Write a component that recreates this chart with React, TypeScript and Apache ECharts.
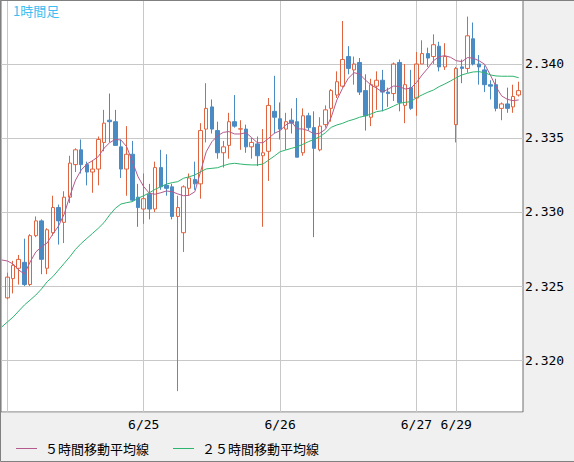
import React, { useEffect, useRef } from 'react';
import * as echarts from 'echarts';

// Trading sessions: [day, first hour, number of hourly slots]
const sessions: [string, number, number][] = [
  ['6/23', 23, 1],
  ['6/24', 0, 24],
  ['6/25', 0, 24],
  ['6/26', 0, 24],
  ['6/27', 0, 7],
  ['6/29', 7, 12],
];
const categories: string[] = [];
sessions.forEach(([day, start, count]) => {
  for (let i = 0; i < count; i++) categories.push(`${day} ${String(start + i).padStart(2, '0')}:00`);
});

const gridDays = ['6/24', '6/25', '6/26', '6/27', '6/29'];
const tickLabels = ['6/25', '6/26', '6/27', '6/29'];
const yTickValues = [2.32, 2.325, 2.33, 2.335, 2.34];

const opens = [null,
  2.3242, 2.3255, 2.3262, 2.3266, 2.3251, 2.3284, 2.3294, 2.3262, 2.3286, 2.3303,
  2.3293, 2.3310, 2.3332, 2.3342, 2.3332, 2.3327, 2.3329, 2.3347, 2.3362, 2.3361,
  2.3344, 2.3329, 2.3339, 2.3310, 2.3302, 2.3312, 2.3302, 2.3330, 2.3318, 2.3317,
  2.3297, 2.3286, 2.3316, 2.3322, 2.3319, 2.3356, 2.3371, 2.3355, 2.3340, 2.3345,
  2.3361, 2.3356, 2.3356, 2.3344, 2.3346, 2.3338, 2.3341, 2.3368, 2.3363, 2.3356,
  2.3362, 2.3361, 2.3340, 2.3365, 2.3357, 2.3342, 2.3359, 2.3370, 2.3379, 2.3385,
  2.3405, 2.3396, 2.3401, 2.3382, 2.3364, 2.3385, 2.3389, 2.3381, 2.3380, 2.3401,
  2.3372, 2.3384, 2.3377, 2.3400, 2.3407, 2.3405, 2.3412, 2.3398, null,
  2.3359, 2.3398, 2.3397, 2.3417, 2.3400, 2.3396, 2.3386, 2.3386, 2.3370, 2.3373, 2.3371, 2.3379];

const closes = [null,
  2.3256, 2.3264, 2.3268, 2.3251, 2.3284, 2.3294, 2.3268, 2.3288, 2.3303, 2.3294,
  2.3310, 2.3333, 2.3342, 2.3332, 2.3327, 2.3329, 2.3349, 2.3360, 2.3361, 2.3345,
  2.3329, 2.3339, 2.3308, 2.3303, 2.3309, 2.3302, 2.3330, 2.3317, 2.3316, 2.3297,
  2.3303, 2.3317, 2.3323, 2.3319, 2.3355, 2.3370, 2.3356, 2.3340, 2.3344, 2.3361,
  2.3358, 2.33562, 2.3344, 2.3347, 2.3338, 2.3340, 2.3372, 2.3364, 2.3356, 2.3361,
  2.3360, 2.3337, 2.3365, 2.3357, 2.3343, 2.3358, 2.3369, 2.3382, 2.3388, 2.3403,
  2.3397, 2.3400, 2.3381, 2.3365, 2.3386, 2.3389, 2.3381, 2.3380, 2.3400, 2.3374,
  2.3386, 2.3370, 2.3400, 2.3407, 2.3404, 2.3413, 2.3398, 2.3405, null,
  2.3397, 2.3397, 2.3419, 2.3400, 2.3398, 2.3386, 2.3385, 2.3370, 2.3373, 2.3370, 2.3378, 2.3382];

const lows = [null,
  2.3241, 2.3245, 2.3251, 2.3250, 2.3250, 2.3283, 2.3258, 2.3258, 2.3284, 2.3278,
  2.3279, 2.3306, 2.3327, 2.3326, 2.3318, 2.3313, 2.3318, 2.3341, 2.3347, 2.3345,
  2.3323, 2.3311, 2.3307, 2.3290, 2.3292, 2.3295, 2.3300, 2.3315, 2.3311, 2.3295,
  2.3179, 2.3273, 2.3311, 2.3315, 2.3309, 2.3347, 2.3353, 2.3336, 2.3330, 2.3336,
  2.3357, 2.3342, 2.3340, 2.3336, 2.3331, 2.3290, 2.3321, 2.3353, 2.3349, 2.3342,
  2.3353, 2.3337, 2.3338, 2.3355, 2.3283, 2.3341, 2.3357, 2.3361, 2.3377, 2.3384,
  2.3393, 2.3386, 2.3379, 2.3355, 2.3358, 2.3369, 2.3368, 2.3371, 2.3375, 2.3368,
  2.3360, 2.3369, 2.3365, 2.3400, 2.3398, 2.3400, 2.3395, 2.3396, null,
  2.3347, 2.3387, 2.3394, 2.3399, 2.3386, 2.3381, 2.3376, 2.3368, 2.3362, 2.3367, 2.3367, 2.3378];

const highs = [null,
  2.3259, 2.3267, 2.3271, 2.3282, 2.3285, 2.3297, 2.3295, 2.3289, 2.3311, 2.3305,
  2.3314, 2.3338, 2.3343, 2.3349, 2.3334, 2.3335, 2.3351, 2.3369, 2.3380, 2.3369,
  2.3349, 2.3358, 2.3348, 2.3319, 2.3326, 2.3319, 2.3334, 2.3342, 2.3339, 2.3319,
  2.3311, 2.3318, 2.3326, 2.3334, 2.3360, 2.3387, 2.3376, 2.3361, 2.3348, 2.3367,
  2.3379, 2.3362, 2.3359, 2.3350, 2.3351, 2.3356, 2.3377, 2.3392, 2.3374, 2.3367,
  2.3370, 2.3377, 2.3370, 2.3367, 2.3368, 2.3364, 2.3372, 2.3383, 2.3395, 2.3429,
  2.3412, 2.3405, 2.3404, 2.3393, 2.3390, 2.3395, 2.3396, 2.3384, 2.3401, 2.3403,
  2.3400, 2.3396, 2.3408, 2.3416, 2.3411, 2.3420, 2.3415, 2.3414, null,
  2.3398, 2.3403, 2.3432, 2.3428, 2.3406, 2.3399, 2.3389, 2.3390, 2.3374, 2.3384, 2.3386, 2.3388];

const ma5 = [
  2.32676, 2.32669, 2.32649, 2.32608, 2.32581, 2.32662, 2.32730, 2.32764, 2.32791, 2.32851,
  2.32905, 2.32986, 2.33108, 2.33216, 2.33284, 2.33324, 2.33347, 2.33374, 2.33430, 2.33468,
  2.33491, 2.33486, 2.33441, 2.33340, 2.33238, 2.33171, 2.33126, 2.33120, 2.33130, 2.33142,
  2.33137, 2.33122, 2.33110, 2.33113, 2.33137, 2.33272, 2.33407, 2.33475, 2.33514, 2.33538,
  2.33543, 2.33527, 2.33527, 2.33536, 2.33502, 2.33468, 2.33468, 2.33498, 2.33532, 2.33549,
  2.33588, 2.33610, 2.33561, 2.33561, 2.33549, 2.33527, 2.33532, 2.33559, 2.33640, 2.33757,
  2.33836, 2.33903, 2.33941, 2.33932, 2.33892, 2.33858, 2.33836, 2.33811, 2.33829, 2.33851,
  2.33847, 2.33831, 2.33836, 2.33874, 2.33926, 2.33971, 2.34022, 2.34049, 2.34056, 2.34045,
  2.34022, 2.34016, 2.34043, 2.34039, 2.34022, 2.33998, 2.33926, 2.33847, 2.33784, 2.33761,
  2.33752, 2.33757];

const ma25 = [
  2.32223, 2.32257, 2.32290, 2.32331, 2.32372, 2.32405, 2.32439, 2.32480, 2.32529, 2.32563,
  2.32608, 2.32653, 2.32698, 2.32748, 2.32788, 2.32822, 2.32856, 2.32890, 2.32928, 2.32980,
  2.33025, 2.33054, 2.33063, 2.33070, 2.33093, 2.33110, 2.33130, 2.33153, 2.33171, 2.33189,
  2.33198, 2.33205, 2.33228, 2.33238, 2.33250, 2.33272, 2.33291, 2.33295, 2.33299, 2.33313,
  2.33324, 2.33329, 2.33324, 2.33320, 2.33318, 2.33318, 2.33324, 2.33351, 2.33378, 2.33407,
  2.33419, 2.33430, 2.33441, 2.33457, 2.33475, 2.33491, 2.33509, 2.33536, 2.33572, 2.33588,
  2.33599, 2.33615, 2.33626, 2.33640, 2.33649, 2.33662, 2.33678, 2.33684, 2.33698, 2.33716,
  2.33734, 2.33741, 2.33745, 2.33772, 2.33791, 2.33809, 2.33824, 2.33847, 2.33865, 2.33885,
  2.33907, 2.33926, 2.33937, 2.33946, 2.33948, 2.33941, 2.33926, 2.33919, 2.33917, 2.33917,
  2.33917, 2.33907];

const seriesNames = ['５時間移動平均線', '２５時間移動平均線'];
const title = '1時間足';

const Y_MIN = 2.31649;
const Y_MAX = 2.34432;

const RED = '#e0643f';
const BLUE = '#4a8bc4';
const PURPLE = '#b45a8c';
const GREEN = '#2db46e';
const GRID = '#c8c8c8';
const MONO = '"DejaVu Sans Mono", monospace';
const CJK = '"Noto Sans CJK JP", sans-serif';

export default function App() {
  const ref = useRef<HTMLDivElement>(null);
  useEffect(() => {
    if (!ref.current) return;
    const chart = echarts.init(ref.current, undefined, { renderer: 'svg' });
    const firstIndexOfDay = (day: string) => categories.findIndex((c) => c.startsWith(day + ' '));
    const gridIdx = new Set(gridDays.map(firstIndexOfDay));
    const labelIdx = new Set(tickLabels.map(firstIndexOfDay));
    const candles = opens.map((o, i) =>
      o == null ? ['-', '-', '-', '-'] : [o, closes[i], lows[i], highs[i]]
    );
    chart.setOption({
      animation: false,
      backgroundColor: '#f0f0f0',
      grid: [
        { left: 1, top: 0, width: 522, height: 412, show: true, backgroundColor: '#ffffff', borderColor: '#6e6e6e', borderWidth: 1 },
        { left: 1.7, top: 0, width: 517, height: 412 },
      ],
      xAxis: [
        { gridIndex: 0, type: 'value', min: 0, max: 1, show: false },
        {
          gridIndex: 1,
          type: 'category',
          data: categories,
          boundaryGap: false,
          axisLine: { show: false },
          axisTick: { show: false },
          axisLabel: {
            interval: (i: number) => labelIdx.has(i),
            formatter: (v: string) => v.split(' ')[0],
            color: '#000',
            fontFamily: MONO,
            fontSize: 13,
            margin: 6,
          },
          splitLine: { show: true, interval: (i: number) => gridIdx.has(i), lineStyle: { color: GRID, width: 1 } },
        },
      ],
      yAxis: [
        {
          gridIndex: 0,
          type: 'value',
          position: 'right',
          min: Y_MIN,
          max: Y_MAX,
          splitNumber: yTickValues.length,
          minInterval: yTickValues[1] - yTickValues[0],
          maxInterval: yTickValues[1] - yTickValues[0],
          axisLine: { show: false },
          axisTick: { show: false },
          axisLabel: {
            showMinLabel: false,
            showMaxLabel: false,
            formatter: (v: number) => v.toFixed(3),
            color: '#000',
            fontFamily: MONO,
            fontSize: 13,
            margin: 2,
          },
          splitLine: { show: true, lineStyle: { color: GRID, width: 1 } },
        },
        { gridIndex: 1, type: 'value', min: Y_MIN, max: Y_MAX, show: false, splitLine: { show: false } },
      ],
      series: [
        {
          type: 'candlestick',
          xAxisIndex: 1,
          yAxisIndex: 1,
          data: candles,
          barWidth: 4,
          z: 2,
          itemStyle: {
            color: 'rgba(255,255,255,0)',
            color0: BLUE,
            borderColor: RED,
            borderColor0: BLUE,
            borderWidth: 1,
          },
        },
        {
          name: seriesNames[0],
          type: 'line',
          xAxisIndex: 1,
          yAxisIndex: 1,
          data: ma5,
          symbol: 'none',
          z: 3,
          lineStyle: { color: PURPLE, width: 1 },
        },
        {
          name: seriesNames[1],
          type: 'line',
          xAxisIndex: 1,
          yAxisIndex: 1,
          data: ma25,
          symbol: 'none',
          z: 3,
          lineStyle: { color: GREEN, width: 1 },
        },
      ],
      graphic: [
        {
          type: 'text',
          x: 13,
          y: 10,
          z: 10,
          style: { text: title, fill: '#3cbef0', font: `13px ${CJK}`, verticalAlign: 'middle' },
        },
        { type: 'line', z: 10, shape: { x1: 16, y1: 448.5, x2: 37, y2: 448.5 }, style: { stroke: PURPLE, lineWidth: 1 } },
        {
          type: 'text',
          x: 45,
          y: 448,
          z: 10,
          style: { text: seriesNames[0], fill: '#000', font: `13px ${CJK}`, verticalAlign: 'middle' },
        },
        { type: 'line', z: 10, shape: { x1: 173, y1: 448.5, x2: 194, y2: 448.5 }, style: { stroke: GREEN, lineWidth: 1 } },
        {
          type: 'text',
          x: 202,
          y: 448,
          z: 10,
          style: { text: seriesNames[1], fill: '#000', font: `13px ${CJK}`, verticalAlign: 'middle' },
        },
        {
          type: 'polyline',
          z: 20,
          shape: { points: [[574, 0.5], [0.5, 0.5], [0.5, 461.5], [574, 461.5]] },
          style: { stroke: '#808080', lineWidth: 1, fill: 'none' },
        },
      ],
    });
    return () => chart.dispose();
  }, []);
  return (
    <div
      ref={ref}
      style={{ position: 'absolute', left: 0, top: 0, width: 574, height: 462, background: '#f0f0f0' }}
    />
  );
}
